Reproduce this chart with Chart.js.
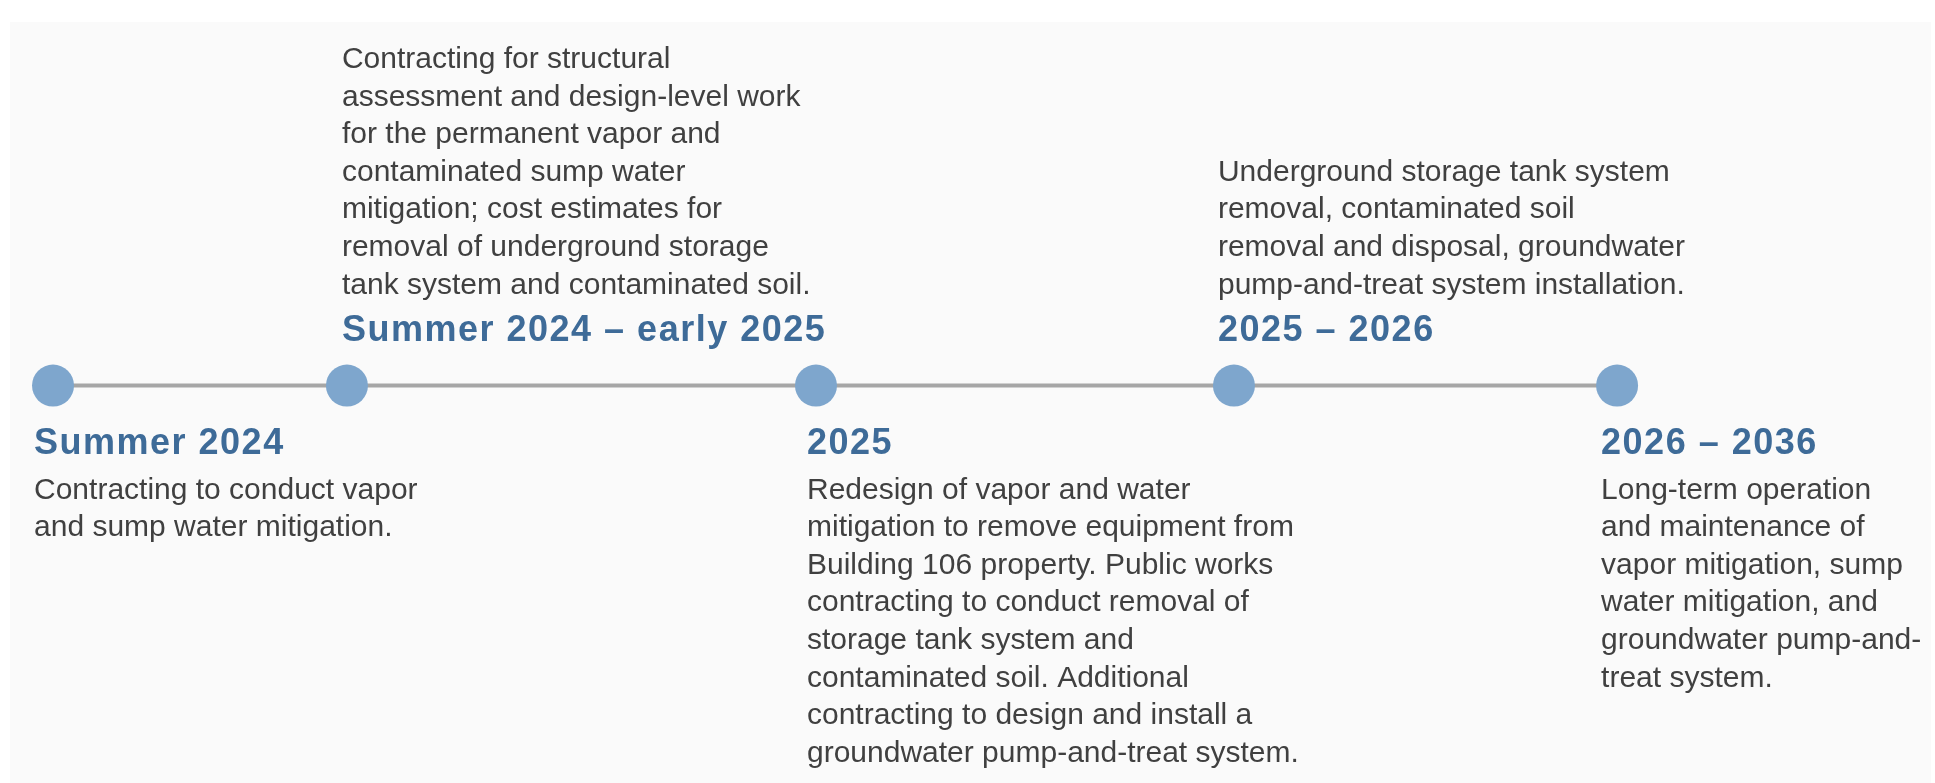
<!DOCTYPE html>
<html lang="en">
<head>
    <meta charset="UTF-8">
    <title>Remediation timeline</title>
    <script src="https://cdn.jsdelivr.net/npm/chart.js"></script>
    <style>
        html, body {
            margin: 0;
            padding: 0;
            background-color: #ffffff;
        }

        #panel {
            position: absolute;
            left: 10px;
            top: 22px;
            width: 1921px;
            height: 761px;
            background-color: #fafafa;
        }

        canvas {
            position: absolute;
            left: 0;
            top: 0;
        }
    </style>
</head>
<body>
    <div id="panel"></div>
    <canvas id="timeline" width="1935" height="783"></canvas>

    <script>
        /* periods on the timeline */
        const periods = ['Summer 2024', 'Summer 2024 \u2013 early 2025', '2025', '2025 \u2013 2026', '2026 \u2013 2036'];

        /* where each period sits along the line (0 - 100) */
        const positions = [2.74, 17.93, 42.17, 63.77, 83.57];

        /* text goes under or over the dot */
        const sides = ['below', 'above', 'below', 'above', 'below'];

        /* description lines, broken as in the original */
        const descriptions = [
            ['Contracting to conduct vapor',
             'and sump water mitigation.'],
            ['Contracting for structural',
             'assessment and design-level work',
             'for the permanent vapor and',
             'contaminated sump water',
             'mitigation; cost estimates for',
             'removal of underground storage',
             'tank system and contaminated soil.'],
            ['Redesign of vapor and water',
             'mitigation to remove equipment from',
             'Building 106 property. Public works',
             'contracting to conduct removal of',
             'storage tank system and',
             'contaminated soil. Additional',
             'contracting to design and install a',
             'groundwater pump-and-treat system.'],
            ['Underground storage tank system',
             'removal, contaminated soil',
             'removal and disposal, groundwater',
             'pump-and-treat system installation.'],
            ['Long-term operation',
             'and maintenance of',
             'vapor mitigation, sump',
             'water mitigation, and',
             'groundwater pump-and-',
             'treat system.']
        ];

        /* text next to each dot */
        const timelineText = {
            id: 'timelineText',
            afterDatasetsDraw(chart, args, opts) {
                const ctx = chart.ctx;
                const points = chart.getDatasetMeta(0).data;
                ctx.save();
                ctx.textAlign = 'left';
                ctx.textBaseline = 'alphabetic';
                points.forEach((pt, i) => {
                    const x = pt.x + opts.shift[i];
                    const lines = descriptions[i];
                    const below = sides[i] === 'below';

                    ctx.font = opts.headFont;
                    ctx.fillStyle = opts.headColor;
                    ctx.letterSpacing = opts.headSpacing;
                    ctx.fillText(periods[i], x, below ? pt.y + 68 : pt.y - 45);

                    ctx.font = opts.bodyFont;
                    ctx.fillStyle = opts.bodyColor;
                    ctx.letterSpacing = '0px';
                    const n = lines.length;
                    lines.forEach((line, j) => {
                        const y = below
                            ? pt.y + 113 + j * opts.lineStep
                            : pt.y - 92 - (n - 1 - j) * opts.lineStep;
                        ctx.fillText(line, x, y);
                    });
                });
                ctx.restore();
            }
        };

        const ctx = document.getElementById('timeline').getContext('2d');
        new Chart(ctx, {
            type: 'line',
            data: {
                datasets: [{
                    data: positions.map(p => ({ x: p, y: 0 })),
                    borderColor: '#a6a6a6',
                    borderWidth: 4,
                    pointRadius: 21,
                    pointHoverRadius: 21,
                    pointBorderWidth: 0,
                    pointBackgroundColor: '#7ea6cd',
                    tension: 0,
                    clip: false
                }]
            },
            options: {
                responsive: false,
                animation: false,
                events: [],
                layout: { padding: 0, autoPadding: false },
                scales: {
                    x: { type: 'linear', min: 0, max: 100, display: false },
                    y: { min: -100, max: 97, display: false }
                },
                plugins: {
                    legend: { display: false },
                    tooltip: { enabled: false },
                    timelineText: {
                        shift: [-19, -5, -9, -16, -16],
                        headFont: 'bold 36px "Liberation Sans"',
                        headSpacing: '1.5px',
                        headColor: '#3e6b98',
                        bodyFont: '30px "Liberation Sans"',
                        bodyColor: '#404040',
                        lineStep: 37.6
                    }
                }
            },
            plugins: [timelineText]
        });
    </script>
</body>
</html>
